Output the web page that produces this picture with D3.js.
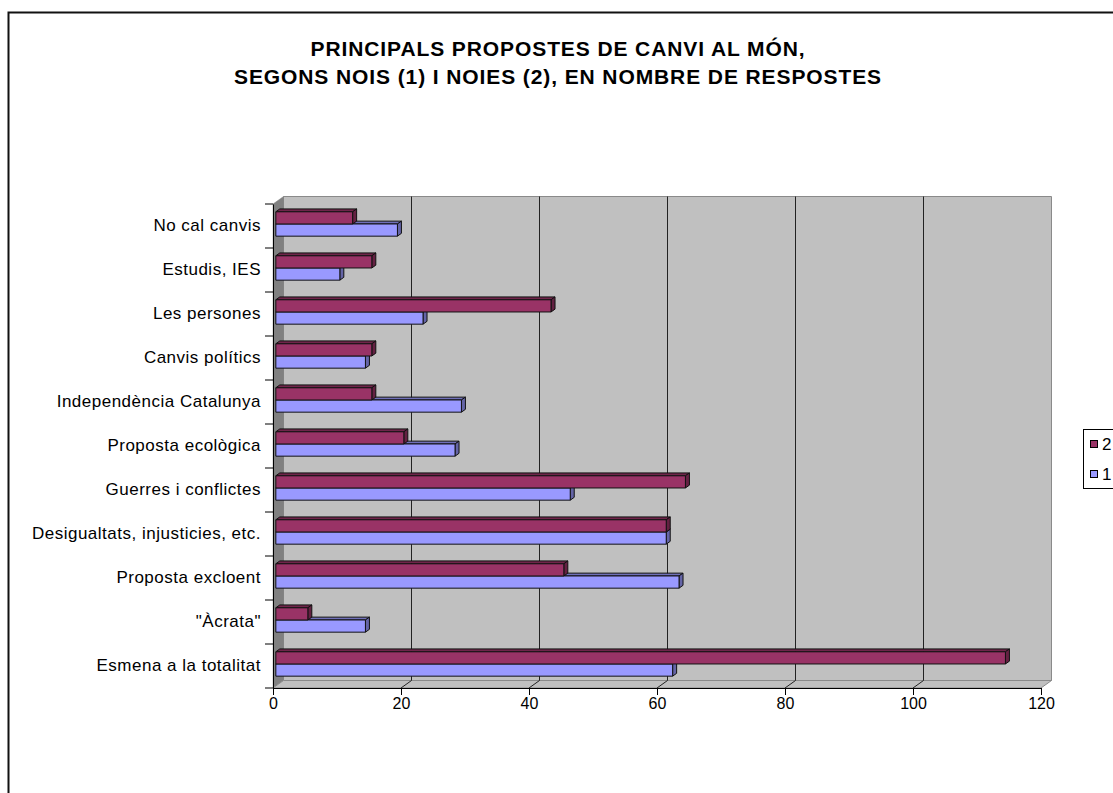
<!DOCTYPE html>
<html>
<head>
<meta charset="utf-8">
<script src="https://cdn.jsdelivr.net/npm/d3@7"></script>
<style>
  html, body { margin: 0; padding: 0; background: #fff; overflow: hidden; }
  svg { display: block; font-family: Arial, "Liberation Sans", sans-serif; }
</style>
</head>
<body>
<svg id="chart" width="1113" height="793"></svg>
<script>
// Categories in data order (first one is drawn at the bottom)
const categories = [
  "Esmena a la totalitat",
  "\"Àcrata\"",
  "Proposta excloent",
  "Desigualtats, injusticies, etc.",
  "Guerres i conflictes",
  "Proposta ecològica",
  "Independència Catalunya",
  "Canvis polítics",
  "Les persones",
  "Estudis, IES",
  "No cal canvis"
];
// Series 1: nois, series 2: noies
const series1 = [62, 14, 63, 61, 46, 28, 29, 14, 23, 10, 19];
const series2 = [114, 5, 45, 61, 64, 20, 15, 15, 43, 15, 12];
const seriesNames = ["1", "2"];
const xTicks = [0, 20, 40, 60, 80, 100, 120];
const titleLines = [
  "PRINCIPALS PROPOSTES DE CANVI AL MÓN,",
  "SEGONS NOIS (1) I NOIES (2), EN NOMBRE DE RESPOSTES"
];

const colors = { "1": "#9999FF", "2": "#993366" };
const FONT = "Arial, 'Liberation Sans', sans-serif";

const svg = d3.select("#chart");

// Chart area border
svg.append("rect")
  .attr("x", 8.5).attr("y", 12.5)
  .attr("width", 1200).attr("height", 900)
  .attr("fill", "#fff").attr("stroke", "#111").attr("stroke-width", 2);

// Title
svg.append("g").selectAll("text").data(titleLines).join("text")
  .attr("x", 558).attr("y", (d, i) => 56 + i * 28)
  .attr("text-anchor", "middle")
  .attr("font-size", 21).attr("font-weight", "bold")
  .attr("letter-spacing", 0.9)
  .text(d => d);

// Front plane scales
const x = d3.scaleLinear().domain([0, 120]).range([273, 1041]);
const y = d3.scaleBand()
  .domain(categories.slice().reverse())
  .range([204, 688]);

// 3D depth projection
const DX = 10.5, DY = -7.5;
const P = (px, py, f) => [px + f * DX, py + f * DY];
const poly = pts => "M" + pts.map(p => p.join(",")).join("L") + "Z";

const x0 = x(0), x1 = x(120), yTop = 204, yBot = 688;

// Back wall
svg.append("path")
  .attr("d", poly([P(x0, yTop, 1), P(x1, yTop, 1), P(x1, yBot, 1), P(x0, yBot, 1)]))
  .attr("fill", "#C0C0C0").attr("stroke", "#8a8a8a").attr("stroke-width", 1);

// Left wall
svg.append("path")
  .attr("d", poly([[x0, yTop], P(x0, yTop, 1), P(x0, yBot, 1), [x0, yBot]]))
  .attr("fill", "#808080").attr("stroke", "#808080").attr("stroke-width", 0.5);

// Floor
svg.append("path")
  .attr("d", poly([[x0, yBot], [x1, yBot], P(x1, yBot, 1), P(x0, yBot, 1)]))
  .attr("fill", "#C0C0C0").attr("stroke", "#8a8a8a").attr("stroke-width", 1);

// Gridlines on back wall and floor
const grid = svg.append("g");
xTicks.slice(1, -1).forEach(t => {
  const b1 = P(x(t), yTop, 1), b2 = P(x(t), yBot, 1);
  grid.append("line")
    .attr("x1", b1[0]).attr("y1", b1[1]).attr("x2", b2[0]).attr("y2", b2[1])
    .attr("stroke", "#222").attr("stroke-width", 1);
  grid.append("line")
    .attr("x1", x(t)).attr("y1", yBot).attr("x2", b2[0]).attr("y2", b2[1])
    .attr("stroke", "#222").attr("stroke-width", 1);
});

// Bars
const F1 = 0.27, F2 = 0.65;
const barH = y.bandwidth() * 0.277;
const bars = svg.append("g");
categories.forEach((c, i) => {
  const mid = y(c) + y.bandwidth() / 2;
  [["1", series1[i], mid, mid + barH], ["2", series2[i], mid - barH, mid]].forEach(([s, v, ya, yb]) => {
    const xa = x(0), xb = x(v);
    const base = d3.rgb(colors[s]);
    const g = bars.append("g").attr("stroke", "#111").attr("stroke-width", 1).attr("stroke-linejoin", "round");
    g.append("path")
      .attr("d", poly([P(xa, ya, F1), P(xb, ya, F1), P(xb, ya, F2), P(xa, ya, F2)]))
      .attr("fill", base.darker(0.9));
    g.append("path")
      .attr("d", poly([P(xb, ya, F1), P(xb, yb, F1), P(xb, yb, F2), P(xb, ya, F2)]))
      .attr("fill", base.darker(1.2));
    g.append("path")
      .attr("d", poly([P(xa, ya, F1), P(xb, ya, F1), P(xb, yb, F1), P(xa, yb, F1)]))
      .attr("fill", base);
  });
});

// Axes on the front plane
const xAxis = svg.append("g").attr("transform", `translate(0,${yBot})`)
  .call(d3.axisBottom(x).tickValues(xTicks).tickSize(7).tickPadding(3));
xAxis.select(".domain").attr("stroke", "#000");
xAxis.selectAll("line").attr("stroke", "#000");
xAxis.selectAll("text").attr("font-size", 16).attr("font-family", FONT).attr("fill", "#000");

const yAxis = svg.append("g").attr("transform", `translate(${x0},0)`)
  .call(d3.axisLeft(y).tickSize(0).tickPadding(12));
yAxis.select(".domain").attr("stroke", "#000");
yAxis.selectAll("text").attr("font-size", 17).attr("letter-spacing", 0.5)
  .attr("font-family", FONT).attr("fill", "#000");

// Category boundary ticks
svg.append("g").selectAll("line")
  .data(d3.range(categories.length + 1))
  .join("line")
  .attr("x1", x0 - 8).attr("x2", x0)
  .attr("y1", i => yTop + i * y.step()).attr("y2", i => yTop + i * y.step())
  .attr("stroke", "#000");

// Legend (series listed in reverse order)
const legend = svg.append("g");
legend.append("rect")
  .attr("x", 1083.5).attr("y", 429.5).attr("width", 60).attr("height", 59)
  .attr("fill", "#fff").attr("stroke", "#000");
const legendItems = seriesNames.slice().reverse();
legendItems.forEach((s, i) => {
  const cy = 444 + i * 30;
  legend.append("rect")
    .attr("x", 1090.5).attr("y", cy - 3.5).attr("width", 7).attr("height", 7)
    .attr("fill", colors[s]).attr("stroke", "#000");
  legend.append("text")
    .attr("x", 1102).attr("y", cy + 6)
    .attr("font-size", 17).text(s);
});
</script>
</body>
</html>
